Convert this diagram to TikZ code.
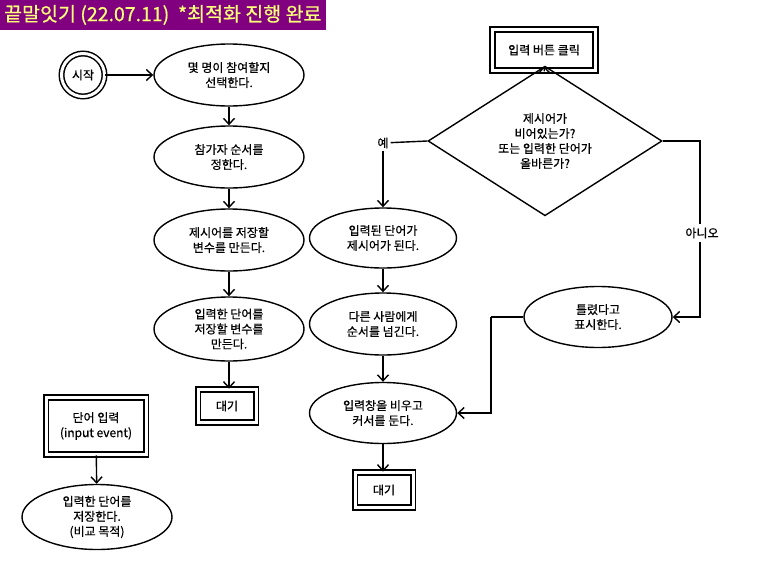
\documentclass[tikz,border=0pt]{standalone}
\usepackage{fontspec}
\setmainfont{Noto Sans CJK KR}[FakeBold=0.6]
\usetikzlibrary{shapes.geometric,arrows.meta}
\definecolor{titlebg}{RGB}{128,0,128}
\definecolor{titlefg}{RGB}{255,255,120}
\begin{document}
\begin{tikzpicture}[x=1pt,y=-1pt,
  every node/.style={font=\fontsize{12}{15}\selectfont, align=center, inner sep=0pt},
  proc/.style={ellipse, draw, line width=1.4pt, minimum width=150pt, minimum height=62pt},
  dbox/.style={rectangle, draw, line width=1.6pt, double, double distance=3pt},
  arr/.style={line width=1.4pt, -{Straight Barb[length=6pt,width=11pt,line width=1.4pt]}},
  ln/.style={line width=1.4pt}]
\useasboundingbox (0,0) rectangle (765,571);
\fill[titlebg] (0,0) rectangle (326,30);
\node[text=titlefg, font=\fontsize{19.5}{22}\selectfont, anchor=west] (title) at (4,15) {끝말잇기 (22.07.11)\ \ *최적화 진행 완료};
% left column
\node[circle, draw, line width=1.5pt, double, double distance=3pt, minimum size=43pt] (start) at (83,75) {시작};
\node[proc] (e1) at (229,75) {몇 명이 참여할지\\선택한다.};
\node[proc] (e2) at (229,157) {참가자 순서를\\정한다.};
\node[proc] (e3) at (229,240) {제시어를 저장할\\변수를 만든다.};
\node[proc, minimum height=64pt] (e4) at (229,329) {입력한 단어를\\저장할 변수를\\만든다.};
\node[dbox, minimum width=58pt, minimum height=33pt] (wait1) at (227,406) {대기};
\draw[arr] (start) -- (e1);
\draw[arr] (e1) -- (e2);
\draw[arr] (e2) -- (e3);
\draw[arr] (e3) -- (e4);
\draw[arr] (e4.south) -- (e4.south |- wait1.north);
% input event
\node[dbox, minimum width=100pt, minimum height=57pt] (inp) at (96,426) {단어 입력\\(input event)};
\node[proc, minimum height=65pt] (save) at (97,517) {입력한 단어를\\저장한다.\\(비교 목적)};
\draw[arr] (inp) -- (save);
% right part
\node[dbox, minimum width=103pt, minimum height=41pt] (btn) at (544,50) {입력 버튼 클릭};
\node[diamond, draw, line width=1.4pt, minimum width=234pt, minimum height=98pt] (dia) at (545,141) {제시어가\\비어있는가?\\또는 입력한 단어가\\올바른가?};
\draw[arr] (btn) -- (dia);
\node[inner sep=2pt] (yes) at (383,143) {예};
\node[proc, minimum width=147pt, minimum height=60pt] (e5) at (383,238) {입력된 단어가\\제시어가 된다.};
\node[proc, minimum width=147pt, minimum height=62pt] (e6) at (383,324) {다른 사람에게\\순서를 넘긴다.};
\node[proc, minimum width=147pt, minimum height=61pt] (e7) at (383,413) {입력창을 비우고\\커서를 둔다.};
\node[dbox, minimum width=58pt, minimum height=35pt] (wait2) at (384,490) {대기};
\draw[ln] (dia.west) -- (yes);
\draw[arr] (yes) -- (e5);
\draw[arr] (e5) -- (e6);
\draw[arr] (e6) -- (e7);
\draw[arr] (e7) -- (e7.south |- wait2.north);
\node[proc, minimum width=148pt, minimum height=61pt] (wrong) at (598,317) {틀렸다고\\표시한다.};
\coordinate (c1) at (700,141);
\node[inner sep=3pt, fill=white] (no) at (702,233) {아니오};
\draw[ln] (dia.east) -- (c1) -- (c1 |- no.north);
\draw[arr] (c1 |- no.south) |- (wrong.east);
\coordinate (c2) at (491,317);
\draw[ln] (wrong.west) -- (c2);
\draw[arr] (c2) |- (e7.east);
\end{tikzpicture}
\end{document}
